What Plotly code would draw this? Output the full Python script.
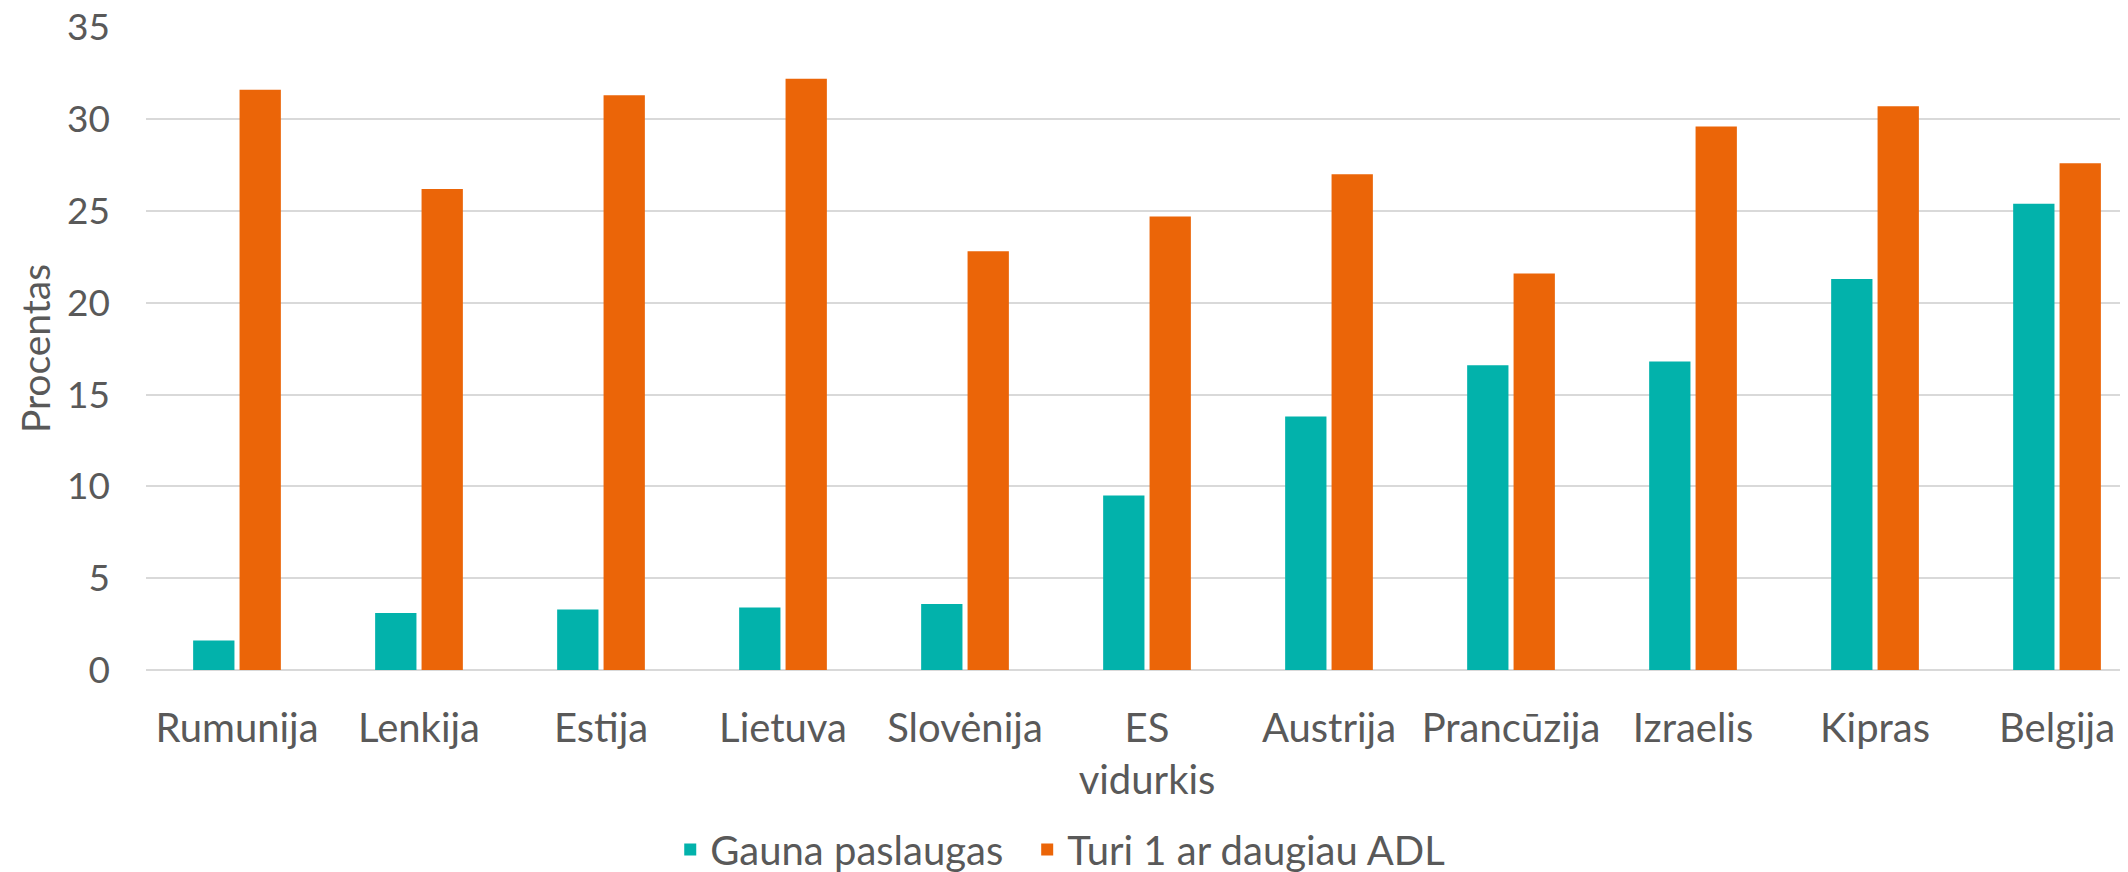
import plotly.graph_objects as go

# country labels along the x axis
countries = ["Rumunija", "Lenkija", "Estija", "Lietuva", "Slovėnija", "ES<br>vidurkis",
             "Austrija", "Prancūzija", "Izraelis", "Kipras", "Belgija"]

# percentages
gauna_paslaugas = [1.6, 3.1, 3.3, 3.4, 3.6, 9.5, 13.8, 16.6, 16.8, 21.3, 25.4]
turi_adl = [31.6, 26.2, 31.3, 32.2, 22.8, 24.7, 27.0, 21.6, 29.6, 30.7, 27.6]

y_ticks = [0, 5, 10, 15, 20, 25, 30, 35]

TEAL = "#02B2AB"
ORANGE = "#EB6508"
TEXT = "#595959"
GRID = "#D9D9D9"
FONT = "Lato"

fig = go.Figure()
fig.add_trace(go.Bar(x=countries, y=gauna_paslaugas, name="Gauna paslaugas",
                     marker=dict(color=TEAL, line=dict(width=0)), legend="legend"))
fig.add_trace(go.Bar(x=countries, y=turi_adl, name="Turi 1 ar daugiau ADL",
                     marker=dict(color=ORANGE, line=dict(width=0)), legend="legend2"))

legend_style = dict(orientation="h", xanchor="left", y=-0.279, yanchor="middle",
                    font=dict(size=40, color=TEXT), itemwidth=30,
                    bgcolor="rgba(0,0,0,0)")

# page body has an 8px margin, so the figure is made 8px smaller each way
fig.update_layout(
    width=2120, height=864,
    margin=dict(l=138, r=0, t=19, b=202, autoexpand=False),
    paper_bgcolor="white", plot_bgcolor="white",
    font=dict(family=FONT, size=39, color=TEXT),
    barmode="group", bargap=0.49, bargroupgap=0.11,
    showlegend=True,
    legend=dict(x=0.2645, **legend_style),
    legend2=dict(x=0.4446, **legend_style),
)

fig.update_xaxes(
    range=[-0.5, 10.39], showgrid=False, showline=False, ticks="",
    tickfont=dict(size=40, color=TEXT), ticklabelstandoff=31, automargin=False,
)
fig.update_yaxes(
    range=[0, 35.02], tickvals=y_ticks, showgrid=True, gridcolor=GRID, gridwidth=2,
    zeroline=True, zerolinecolor=GRID, zerolinewidth=2, showline=False, ticks="",
    tickfont=dict(size=37, color=TEXT), ticklabelstandoff=35, automargin=False,
    ticklabeloverflow="allow",
    title=dict(text="Procentas", font=dict(size=39, color=TEXT), standoff=4),
)

fig.write_html("out.html")
